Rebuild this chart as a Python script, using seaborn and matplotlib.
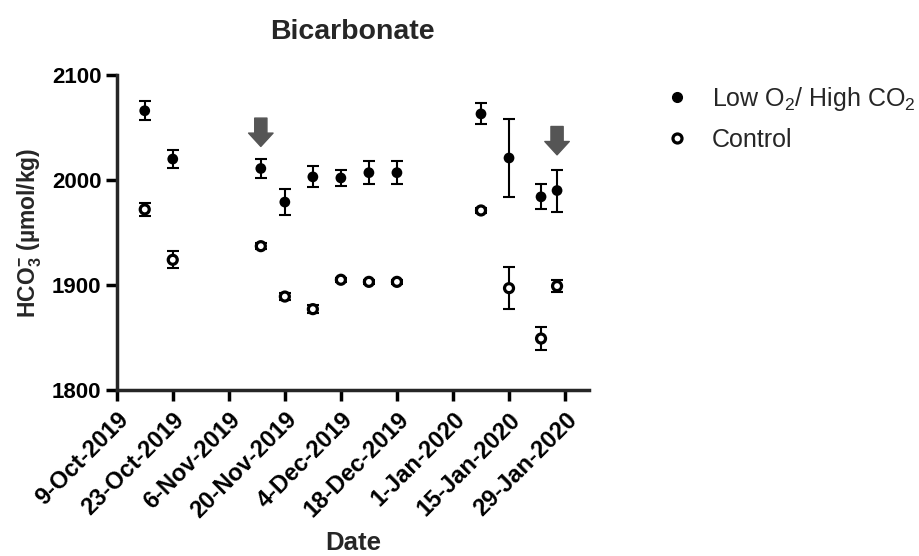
import numpy as np
import pandas as pd
import matplotlib
matplotlib.use("Agg")
import matplotlib.pyplot as plt
import seaborn as sns
from matplotlib.lines import Line2D

sns.set_style("ticks")
plt.rcParams['font.family'] = ['Liberation Sans', 'DejaVu Sans']
plt.rcParams['mathtext.fontset'] = 'custom'
plt.rcParams['mathtext.rm'] = 'Liberation Sans'
plt.rcParams['mathtext.bf'] = 'Liberation Sans:bold'
plt.rcParams['mathtext.it'] = 'Liberation Sans:italic'

# ---- data ----
dates = ["2019-10-16", "2019-10-23", "2019-11-14", "2019-11-20", "2019-11-27",
         "2019-12-04", "2019-12-11", "2019-12-18", "2020-01-08", "2020-01-15",
         "2020-01-23", "2020-01-27"]
low_o2_mean = [2066, 2020, 2011, 1979, 2003, 2002, 2007, 2007, 2063, 2021, 1984, 1990]
low_o2_err = [9, 9, 9, 12, 10, 8, 11, 11, 10, 37, 12, 20]
control_mean = [1972, 1924, 1937, 1889, 1877, 1905, 1903, 1903, 1971, 1897, 1849, 1899]
control_err = [6, 8, 3, 3, 4, 2, 2, 2, 2, 20, 11, 6]
arrow_dates = ["2019-11-14", "2020-01-27"]
arrow_top = [2059, 2051]
arrow_bottom = [2032, 2024]
series_names = ["Low O$_2$/ High CO$_2$", "Control"]
xtick_dates = pd.date_range("2019-10-09", "2020-01-29", freq="14D")

df = pd.DataFrame({
    "date": pd.to_datetime(dates * 2),
    "value": low_o2_mean + control_mean,
    "err": low_o2_err + control_err,
    "group": [series_names[0]] * len(dates) + [series_names[1]] * len(dates),
})

fig = plt.figure(figsize=(9.19, 5.56), dpi=100)
ax = fig.add_axes([0.127, 0.2986, 0.514, 0.5664])

# error bars
for name in series_names:
    sub = df[df.group == name]
    ax.errorbar(sub["date"], sub["value"], yerr=sub["err"], fmt="none",
                ecolor="black", elinewidth=1.5, capsize=4, capthick=1.5, zorder=2)

sns.scatterplot(data=df, x="date", y="value", hue="group",
                palette={series_names[0]: "black", series_names[1]: "black"},
                ax=ax, s=55, legend=False, zorder=3, linewidth=0)
# restyle control markers as open circles
coll = ax.collections[-1]
n = len(dates)
fc = np.array([[0, 0, 0, 1]] * n + [[1, 1, 1, 1]] * n, dtype=float)
coll.set_facecolors(fc)
coll.set_edgecolors("black")
coll.set_linewidths([0] * n + [2.3] * n)
coll.set_sizes([60] * n + [42] * n)

# arrows
for d, t, b in zip(arrow_dates, arrow_top, arrow_bottom):
    ax.annotate("", xy=(pd.Timestamp(d), b), xytext=(pd.Timestamp(d), t),
                arrowprops=dict(arrowstyle="simple,head_length=0.6,head_width=1.1,tail_width=0.55",
                                color="#555555", mutation_scale=16, shrinkA=0, shrinkB=0))

ax.set_xlim(pd.Timestamp("2019-10-09"), pd.Timestamp("2020-02-04"))
ax.set_ylim(1800, 2100)
ax.set_yticks([1800, 1900, 2000, 2100])
ax.set_xticks(xtick_dates)
ax.set_xticklabels([f"{d.day}-{d.strftime('%b')}-{d.year}" for d in xtick_dates],
                   rotation=45, ha="right", rotation_mode="anchor")
for lab in ax.get_xticklabels():
    lab.set_fontweight("bold")
    lab.set_fontsize(17)
for lab in ax.get_yticklabels():
    lab.set_fontweight("bold")
    lab.set_fontsize(16)

sns.despine(ax=ax)
for sp in ["left", "bottom"]:
    ax.spines[sp].set_linewidth(2.5)
ax.tick_params(width=2.5, length=8, colors="black", pad=3)
ax.tick_params(axis="x", pad=5)

ax.set_xlabel("Date", fontsize=18.5, fontweight="bold", labelpad=6)
ax.set_ylabel(r"HCO$_\mathbf{3}^{\mathbf{-}}$ (µmol/kg)", fontsize=16.5, fontweight="bold", labelpad=6)
ax.set_title("Bicarbonate", fontsize=20.5, fontweight="bold", pad=26)

# legend
handles = [Line2D([], [], marker="o", color="black", linestyle="none", markersize=7),
           Line2D([], [], marker="o", color="black", markerfacecolor="white",
                  markeredgewidth=2.3, linestyle="none", markersize=6.5)]
fig.legend(handles, series_names, loc="upper left", bbox_to_anchor=(0.712, 0.865),
           frameon=False, fontsize=18, handletextpad=0.9, labelspacing=0.6,
           handlelength=1.0, borderaxespad=0)

fig.savefig("out.png", dpi=100)
